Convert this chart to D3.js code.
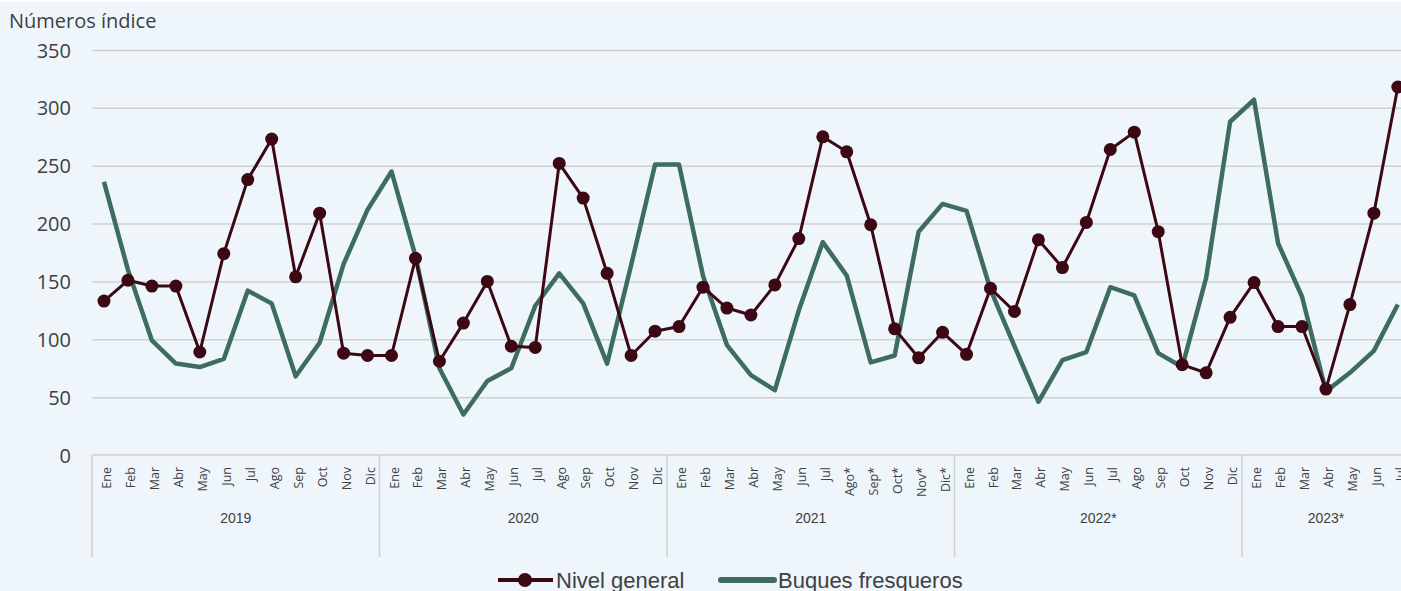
<!DOCTYPE html>
<html>
<head>
<meta charset="utf-8">
<script src="https://cdn.jsdelivr.net/npm/d3@7"></script>
<style>
  html, body { margin: 0; padding: 0; background: #ffffff; overflow: hidden; }
  svg { display: block; }
</style>
</head>
<body>
<svg id="chart" width="1401" height="591"></svg>
<script>
var years = ["2019", "2020", "2021", "2022*", "2023*"];
var months = [
  ["Ene","Feb","Mar","Abr","May","Jun","Jul","Ago","Sep","Oct","Nov","Dic"],
  ["Ene","Feb","Mar","Abr","May","Jun","Jul","Ago","Sep","Oct","Nov","Dic"],
  ["Ene","Feb","Mar","Abr","May","Jun","Jul","Ago*","Sep*","Oct*","Nov*","Dic*"],
  ["Ene","Feb","Mar","Abr","May","Jun","Jul","Ago","Sep","Oct","Nov","Dic"],
  ["Ene","Feb","Mar","Abr","May","Jun","Jul"]
];
var nivelGeneral = [
  133, 151, 146, 146, 89, 174, 238, 273, 154, 209, 88, 86,
  86, 170, 81, 114, 150, 94, 93, 252, 222, 157, 86, 107,
  111, 145, 127, 121, 147, 187, 275, 262, 199, 109, 84, 106,
  87, 144, 124, 186, 162, 201, 264, 279, 193, 78, 71, 119,
  149, 111, 111, 57, 130, 209, 318
];
var buquesFresqueros = [
  236, 160, 99, 79, 76, 83, 142, 131, 68, 97, 165, 212,
  245, 172, 75, 35, 64, 75, 129, 157, 131, 79, 164, 251,
  251, 155, 95, 69, 56, 125, 184, 155, 80, 86, 193, 217,
  211, 143, 94, 46, 82, 89, 145, 138, 88, 76, 153, 288,
  307, 183, 137, 55, 71, 90, 130
];
var yTicks = [0, 50, 100, 150, 200, 250, 300, 350];

var labels = [];
months.forEach(function (m, yi) {
  m.forEach(function (name) { labels.push({ year: yi, name: name }); });
});

var svg = d3.select('#chart');
var bg = '#eef6fc';
var maroon = '#3b0814';
var green = '#3e6d5f';
var grey = '#404040';

svg.append('rect').attr('x', 0).attr('y', 2).attr('width', 1401).attr('height', 589).attr('fill', bg);

var left = 92, step = 23.96;
var x = d3.scaleBand()
  .domain(d3.range(labels.length))
  .range([left, left + step * labels.length])
  .paddingInner(0).paddingOuter(0);
var cx = function (i) { return x(i) + x.bandwidth() / 2; };

var y = d3.scaleLinear().domain([0, 350]).range([455, 50]);

// gridlines
svg.append('g')
  .attr('transform', 'translate(' + left + ',0)')
  .call(d3.axisLeft(y).tickValues(yTicks.slice(1)).tickSize(-1401).tickFormat(''))
  .call(function (g) {
    g.select('.domain').remove();
    g.selectAll('line').attr('stroke', '#d0d0d0').attr('stroke-width', 1.5);
  });

// y labels
svg.append('g')
  .attr('transform', 'translate(71,0)')
  .call(d3.axisLeft(y).tickValues(yTicks).tickSize(0).tickPadding(0))
  .call(function (g) {
    g.select('.domain').remove();
    g.selectAll('text')
      .attr('fill', grey)
      .attr('font-family', 'Open Sans, sans-serif')
      .attr('font-size', 20)
      .attr('dy', '0.35em');
  });

svg.append('text')
  .attr('x', 9).attr('y', 28)
  .attr('fill', grey)
  .attr('font-family', 'Open Sans, sans-serif')
  .attr('font-size', 20)
  .text('Números índice');

// x axis line and year separators
var axisG = svg.append('g');
axisG.append('line')
  .attr('x1', left).attr('x2', 1401)
  .attr('y1', y(0)).attr('y2', y(0))
  .attr('stroke', '#d0d0d0').attr('stroke-width', 1.5);

var yearStart = [0];
months.forEach(function (m, i) { yearStart.push(yearStart[i] + m.length); });

axisG.selectAll('line.sep')
  .data(yearStart.slice(0, years.length))
  .enter().append('line')
  .attr('class', 'sep')
  .attr('x1', function (d) { return x(d); })
  .attr('x2', function (d) { return x(d); })
  .attr('y1', y(0)).attr('y2', 557)
  .attr('stroke', '#d0d0d0').attr('stroke-width', 1.5);

axisG.selectAll('text.month')
  .data(labels)
  .enter().append('text')
  .attr('class', 'month')
  .attr('transform', function (d, i) { return 'translate(' + (cx(i) + 7) + ',467) rotate(-90)'; })
  .attr('text-anchor', 'end')
  .attr('fill', grey)
  .attr('font-family', 'Open Sans, sans-serif')
  .attr('font-size', 12.5)
  .text(function (d) { return d.name; });

axisG.selectAll('text.year')
  .data(years)
  .enter().append('text')
  .attr('class', 'year')
  .attr('x', function (d, i) {
    var a = x(yearStart[i]), b = x(yearStart[i + 1] - 1) + x.bandwidth();
    return (a + b) / 2;
  })
  .attr('y', 523)
  .attr('text-anchor', 'middle')
  .attr('fill', grey)
  .attr('font-family', 'Liberation Sans Narrow, Arial Narrow, sans-serif')
  .attr('font-size', 14)
  .text(function (d) { return d; });

// series
var lineGen = d3.line()
  .x(function (d, i) { return cx(i); })
  .y(function (d) { return y(d); });

svg.append('path')
  .datum(buquesFresqueros)
  .attr('d', lineGen)
  .attr('fill', 'none')
  .attr('stroke', green)
  .attr('stroke-width', 4.5)
  .attr('stroke-linejoin', 'round');

svg.append('path')
  .datum(nivelGeneral)
  .attr('d', lineGen)
  .attr('fill', 'none')
  .attr('stroke', maroon)
  .attr('stroke-width', 3)
  .attr('stroke-linejoin', 'round');

svg.selectAll('circle.dot')
  .data(nivelGeneral)
  .enter().append('circle')
  .attr('class', 'dot')
  .attr('cx', function (d, i) { return cx(i); })
  .attr('cy', function (d) { return y(d); })
  .attr('r', 6.5)
  .attr('fill', maroon);

// legend
var leg = svg.append('g').attr('font-family', 'Liberation Sans Narrow, Arial Narrow, sans-serif').attr('font-size', 22);
leg.append('line').attr('x1', 498).attr('x2', 553).attr('y1', 580).attr('y2', 580)
  .attr('stroke', maroon).attr('stroke-width', 4);
leg.append('circle').attr('cx', 525).attr('cy', 580).attr('r', 7).attr('fill', maroon);
leg.append('text').attr('x', 556).attr('y', 588).attr('fill', grey).text('Nivel general');
leg.append('line').attr('x1', 721).attr('x2', 774).attr('y1', 580).attr('y2', 580)
  .attr('stroke', green).attr('stroke-width', 6).attr('stroke-linecap', 'round');
leg.append('text').attr('x', 778).attr('y', 588).attr('fill', grey).text('Buques fresqueros');
</script>
</body>
</html>
